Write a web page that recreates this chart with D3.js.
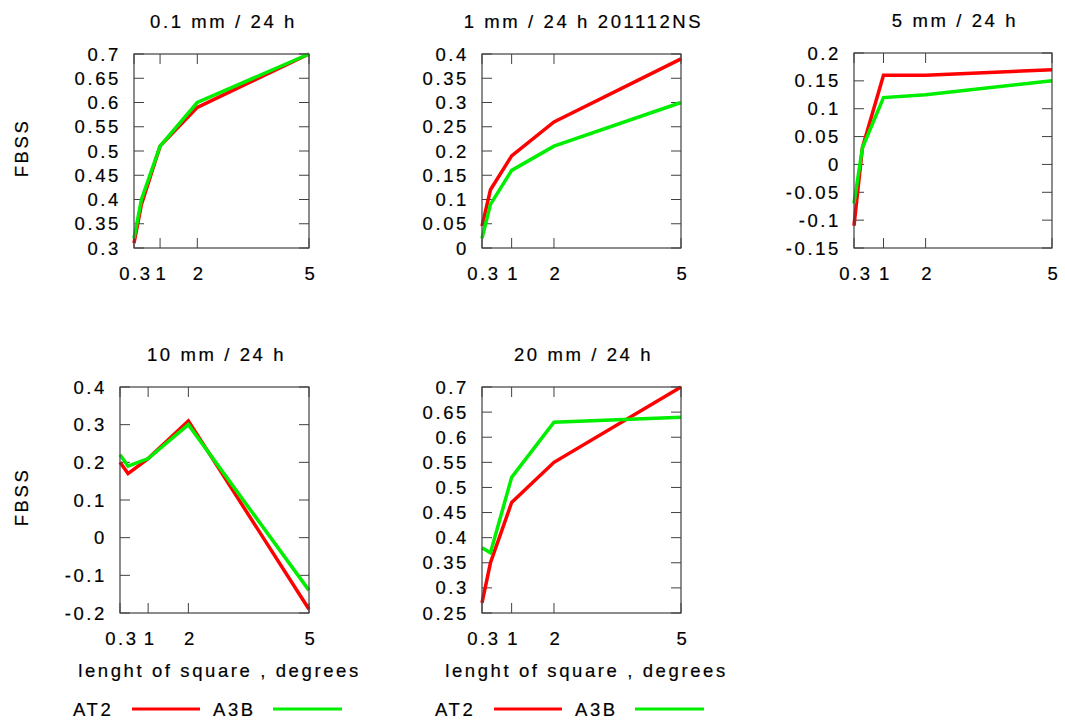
<!DOCTYPE html>
<html>
<head>
<meta charset="utf-8">
<script src="https://cdn.jsdelivr.net/npm/d3@7"></script>
<style>
  body { margin: 0; background: #fff; }
  svg text { font-family: "Liberation Sans", Arial, sans-serif; font-size: 18.5px; fill: #000;
             stroke: #000; stroke-width: 0.2px; letter-spacing: 2.6px; }
</style>
</head>
<body>
<div id="chart"></div>
<script>
// square lengths (degrees) used on every panel
var lengths = [0.3, 0.5, 1, 2, 5];
var xTicks  = [0.3, 1, 2, 5];

var titles = ["0.1 mm / 24 h", "1 mm / 24 h 201112NS", "5 mm / 24 h", "10 mm / 24 h", "20 mm / 24 h"];

// FBSS values
var at2_01  = [0.31, 0.39, 0.51, 0.59, 0.70];
var a3b_01  = [0.32, 0.40, 0.51, 0.60, 0.70];
var at2_1   = [0.045, 0.12, 0.19, 0.26, 0.39];
var a3b_1   = [0.02, 0.09, 0.16, 0.21, 0.30];
var at2_5   = [-0.11, 0.03, 0.16, 0.16, 0.17];
var a3b_5   = [-0.07, 0.03, 0.12, 0.125, 0.15];
var at2_10  = [0.20, 0.17, 0.21, 0.31, -0.19];
var a3b_10  = [0.22, 0.19, 0.21, 0.30, -0.14];
var at2_20  = [0.27, 0.35, 0.47, 0.55, 0.70];
var a3b_20  = [0.38, 0.37, 0.52, 0.63, 0.64];

// y tick labels per panel
var yTicks01 = ["0.3", "0.35", "0.4", "0.45", "0.5", "0.55", "0.6", "0.65", "0.7"];
var yTicks1  = ["0", "0.05", "0.1", "0.15", "0.2", "0.25", "0.3", "0.35", "0.4"];
var yTicks5  = ["-0.15", "-0.1", "-0.05", "0", "0.05", "0.1", "0.15", "0.2"];
var yTicks10 = ["-0.2", "-0.1", "0", "0.1", "0.2", "0.3", "0.4"];
var yTicks20 = ["0.25", "0.3", "0.35", "0.4", "0.45", "0.5", "0.55", "0.6", "0.65", "0.7"];

var RED = "#ff0000", GREEN = "#00ee00", FRAME = "#404040";

var panels = [
    { title: titles[0], at2: at2_01, a3b: a3b_01, ticks: yTicks01, box: [134, 54, 309, 248], ylab: true },
    { title: titles[1], at2: at2_1,  a3b: a3b_1,  ticks: yTicks1,  box: [482, 54, 681, 248] },
    { title: titles[2], at2: at2_5,  a3b: a3b_5,  ticks: yTicks5,  box: [854, 53, 1052, 248] },
    { title: titles[3], at2: at2_10, a3b: a3b_10, ticks: yTicks10, box: [120, 387, 309, 613], ylab: true, xlab: true },
    { title: titles[4], at2: at2_20, a3b: a3b_20, ticks: yTicks20, box: [482, 387, 681, 613], xlab: true }
];

var svg = d3.select("#chart").append("svg")
    .attr("width", 1065).attr("height", 722);

panels.forEach(function (p) {
    var x0 = p.box[0], y0 = p.box[1], x1 = p.box[2], y1 = p.box[3];
    var tv = p.ticks.map(Number);

    var x = d3.scaleLinear().domain([0.3, 5]).range([x0, x1]);
    var y = d3.scaleLinear().domain(d3.extent(tv)).range([y1, y0]);

    var g = svg.append("g");

    // title
    g.append("text")
        .attr("x", (x0 + x1) / 2 + 2).attr("y", y0 - 26)
        .attr("text-anchor", "middle")
        .text(p.title);

    // ticks, mirrored on all four sides (pointing inward)
    var TL = 10;
    tv.forEach(function (v) {
        g.append("line").attr("x1", x0).attr("x2", x0 + TL).attr("y1", y(v)).attr("y2", y(v))
            .attr("stroke", FRAME);
        g.append("line").attr("x1", x1).attr("x2", x1 - TL).attr("y1", y(v)).attr("y2", y(v))
            .attr("stroke", FRAME);
    });
    xTicks.forEach(function (v) {
        g.append("line").attr("x1", x(v)).attr("x2", x(v)).attr("y1", y1).attr("y2", y1 - TL)
            .attr("stroke", FRAME);
        g.append("line").attr("x1", x(v)).attr("x2", x(v)).attr("y1", y0).attr("y2", y0 + TL)
            .attr("stroke", FRAME);
    });

    // y tick labels
    p.ticks.forEach(function (t, i) {
        g.append("text")
            .attr("x", x0 - 13).attr("y", y(tv[i]) + 6.5)
            .attr("text-anchor", "end")
            .text(t);
    });

    // x tick labels
    xTicks.forEach(function (v) {
        g.append("text")
            .attr("x", x(v) + 2).attr("y", y1 + 32)
            .attr("text-anchor", "middle")
            .text(String(v));
    });

    // series
    var line = d3.line()
        .x(function (d, i) { return x(lengths[i]); })
        .y(function (d) { return y(d); });

    g.append("path").datum(p.at2)
        .attr("d", line).attr("fill", "none")
        .attr("stroke", RED).attr("stroke-width", 3.5).attr("stroke-linejoin", "miter");
    g.append("path").datum(p.a3b)
        .attr("d", line).attr("fill", "none")
        .attr("stroke", GREEN).attr("stroke-width", 3.5).attr("stroke-linejoin", "miter");

    // frame
    g.append("rect")
        .attr("x", x0).attr("y", y0)
        .attr("width", x1 - x0).attr("height", y1 - y0)
        .attr("fill", "none").attr("stroke", FRAME).attr("stroke-width", 1.2);

    if (p.ylab) {
        g.append("text")
            .attr("transform", "translate(28," + ((y0 + y1) / 2 - 3) + ") rotate(-90)")
            .attr("text-anchor", "middle")
            .text("FBSS");
    }

    if (p.xlab) {
        g.append("text")
            .attr("x", (x0 + x1) / 2 + 5).attr("y", 677)
            .attr("text-anchor", "middle")
            .text("lenght of square , degrees");

        // legend
        var lx = x0 - 47;
        g.append("text").attr("x", lx).attr("y", 716).text("AT2");
        g.append("line").attr("x1", lx + 59).attr("x2", lx + 127).attr("y1", 709).attr("y2", 709)
            .attr("stroke", RED).attr("stroke-width", 3);
        g.append("text").attr("x", lx + 140).attr("y", 716).text("A3B");
        g.append("line").attr("x1", lx + 200).attr("x2", lx + 269).attr("y1", 709).attr("y2", 709)
            .attr("stroke", GREEN).attr("stroke-width", 3);
    }
});
</script>
</body>
</html>
